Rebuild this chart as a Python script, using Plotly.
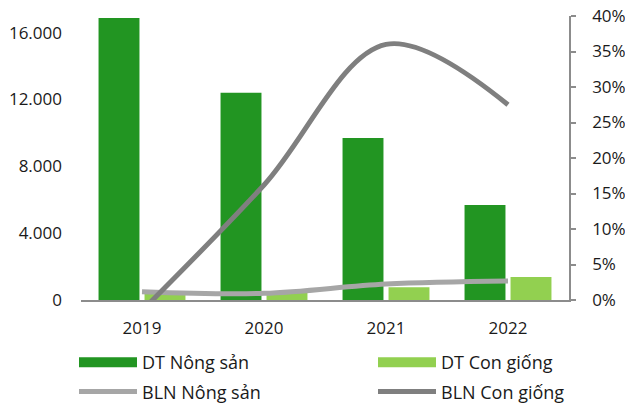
import plotly.graph_objects as go

years = ["2019", "2020", "2021", "2022"]
dt_nong_san = [16880, 12400, 9690, 5690]        # revenue, agricultural products
dt_con_giong = [400, 440, 760, 1380]            # revenue, breeding stock
bln_nong_san = [0.0117, 0.0094, 0.0225, 0.0268]  # net margin, agricultural products
bln_con_giong = [-0.015, 0.162, 0.36, 0.275]     # net margin, breeding stock

left_ticks = [0, 4000, 8000, 12000, 16000]
left_tick_text = ["0", "4.000", "8.000", "12.000", "16.000"]

DARK_GREEN = "#229522"
LIGHT_GREEN = "#92D050"
LIGHT_GRAY = "#A6A6A6"
DARK_GRAY = "#7F7F7F"
AXIS_GRAY = "#8C8C8C"
FONT = dict(family="Open Sans, Segoe UI, sans-serif", size=17, color="#1a1a1a")

fig = go.Figure()

fig.add_trace(go.Bar(x=years, y=dt_nong_san, marker_color=DARK_GREEN,
                     marker_line_width=0, showlegend=False, yaxis="y"))
fig.add_trace(go.Bar(x=years, y=dt_con_giong, marker_color=LIGHT_GREEN,
                     marker_line_width=0, showlegend=False, yaxis="y"))

fig.add_trace(go.Scatter(x=years, y=bln_nong_san, mode="lines", name="BLN Nông sản",
                         line=dict(color=LIGHT_GRAY, width=5, shape="spline"),
                         yaxis="y2", legend="legend", legendgroup="c", legendrank=2))
fig.add_trace(go.Scatter(x=years, y=bln_con_giong, mode="lines", name="BLN Con giống",
                         line=dict(color=DARK_GRAY, width=5, shape="spline"),
                         yaxis="y2", legend="legend2", legendgroup="d", legendrank=2))

# wide swatches for the bar series in the legend
fig.add_trace(go.Scatter(x=[None], y=[None], mode="lines", name="DT Nông sản",
                         line=dict(color=DARK_GREEN, width=11),
                         legend="legend", legendgroup="a", legendrank=1))
fig.add_trace(go.Scatter(x=[None], y=[None], mode="lines", name="DT Con giống",
                         line=dict(color=LIGHT_GREEN, width=11),
                         legend="legend2", legendgroup="b", legendrank=1))

legend_style = dict(orientation="v", xanchor="left", y=(300 - 344) / 284, yanchor="top",
                    itemwidth=58, tracegroupgap=3,
                    font=dict(FONT, size=18), bgcolor="rgba(0,0,0,0)")

fig.update_layout(
    width=625, height=404,
    margin=dict(l=81, r=56, t=16, b=104, autoexpand=False),
    paper_bgcolor="white", plot_bgcolor="white",
    font=FONT,
    barmode="group", bargap=0.246, bargroupgap=0.11,
    xaxis=dict(type="category", range=[-0.5, 3.5], showline=True, linecolor=AXIS_GRAY,
               linewidth=1.5, ticks="", showgrid=False, ticklabelstandoff=12),
    yaxis=dict(range=[0, 17000], tickvals=left_ticks, ticktext=left_tick_text,
               showgrid=False, zeroline=False, showline=False, ticks="",
               ticklabelstandoff=18),
    yaxis2=dict(overlaying="y", side="right", range=[0, 0.4], dtick=0.05,
                tickformat=".0%", showgrid=False, zeroline=False, showline=True,
                linecolor=AXIS_GRAY, linewidth=1.5, ticks="outside", ticklen=5,
                tickcolor=AXIS_GRAY, tickwidth=1.5, ticklabelstandoff=13),
    legend=dict(legend_style, x=(74 - 81) / 488),
    legend2=dict(legend_style, x=(373 - 81) / 488),
)

fig.write_html("out.html")
